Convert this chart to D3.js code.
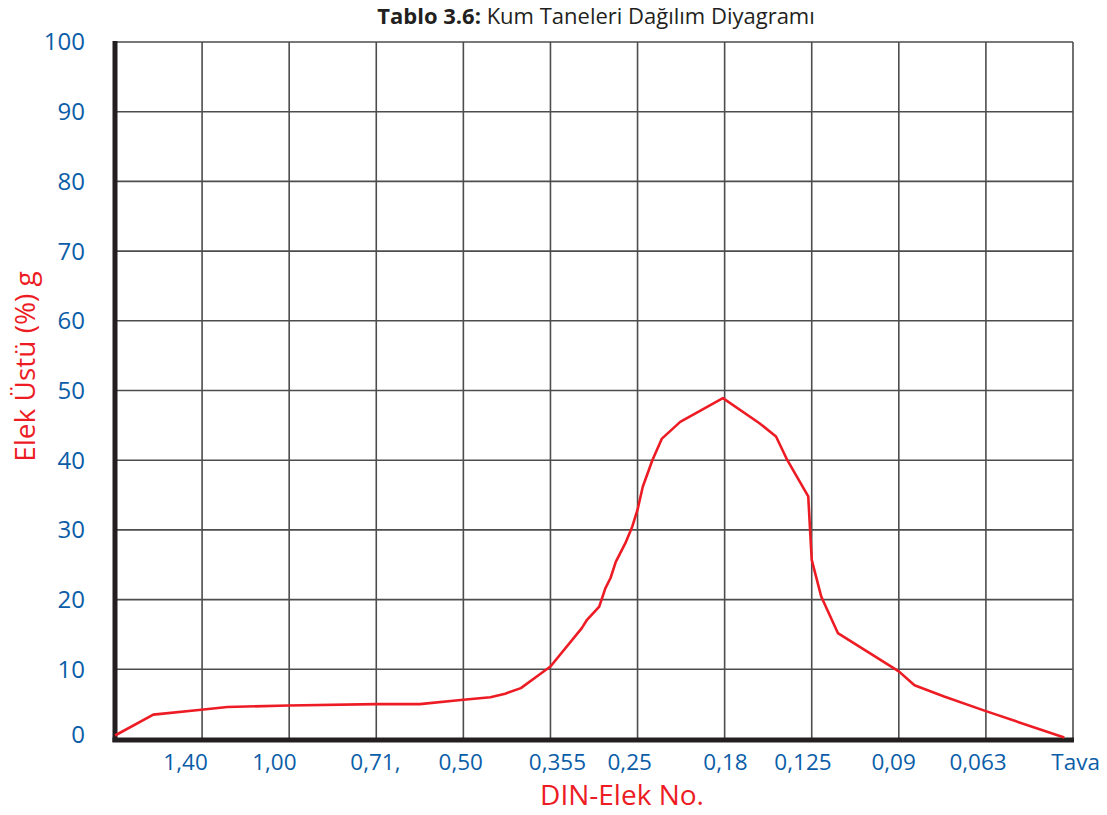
<!DOCTYPE html>
<html>
<head>
<meta charset="utf-8">
<script src="https://cdn.jsdelivr.net/npm/d3@7"></script>
<style>
  body { margin: 0; background: #fff; }
  text { font-family: "Open Sans", sans-serif; }
</style>
</head>
<body>
<div id="chart"></div>
<script>
// sieve labels and where they sit (in sieve-step units, 0 = left axis)
var sieveLabels = ["1,40", "1,00", "0,71,", "0,50", "0,355", "0,25", "0,18", "0,125", "0,09", "0,063", "Tava"];
var sievePos = [0.81, 1.83, 2.99, 3.97, 5.08, 5.91, 7.01, 7.9, 8.94, 9.91, 11.03];

// curve: step position along the sieve axis, % retained
var stepX = [0, 0.44, 0.99, 1.29, 1.99, 2.99, 3.5, 3.97, 4.31, 4.48, 4.66, 4.89, 5.0, 5.36, 5.42, 5.56, 5.63, 5.69, 5.75, 5.86, 5.94, 6.0, 6.06, 6.17, 6.28, 6.49, 6.98, 7.4, 7.59, 7.72, 7.96, 8.0, 8.11, 8.3, 9.0, 9.18, 9.52, 10.0, 10.9];
var retained = [0.5, 3.5, 4.2, 4.6, 4.8, 5.0, 5.0, 5.6, 6.0, 6.5, 7.3, 9.4, 10.4, 15.9, 17.1, 19.0, 21.6, 23.1, 25.4, 28.1, 30.5, 32.9, 36.2, 40.0, 43.1, 45.5, 48.9, 45.3, 43.4, 40.0, 34.8, 25.7, 20.4, 15.2, 9.7, 7.7, 6.1, 4.0, 0.2];

var yTicks = [0, 10, 20, 30, 40, 50, 60, 70, 80, 90, 100];

var width = 1107, height = 815;
var margin = {top: 42, right: 34, bottom: 76, left: 115};

var svg = d3.select('#chart')
    .append('svg')
    .attr('width', width)
    .attr('height', height)

var x = d3.scaleLinear()
    .domain([0, 11])
    .range([margin.left, width - margin.right])

var y = d3.scaleLinear()
    .domain([0, 100])
    .range([height - margin.bottom, margin.top])

// grid
svg.append('g')
    .selectAll('line')
    .data(d3.range(1, 12))
    .enter()
    .append('line')
    .attr('x1', d => x(d)).attr('x2', d => x(d))
    .attr('y1', y(0)).attr('y2', y(100))
    .attr('stroke', '#4d4d4d')
    .attr('stroke-width', 1.6)

svg.append('g')
    .selectAll('line')
    .data(yTicks.slice(1))
    .enter()
    .append('line')
    .attr('x1', x(0)).attr('x2', x(11))
    .attr('y1', d => y(d)).attr('y2', d => y(d))
    .attr('stroke', '#4d4d4d')
    .attr('stroke-width', 1.6)

// thick axes
svg.append('line')
    .attr('x1', x(0)).attr('x2', x(0))
    .attr('y1', y(100) - 1).attr('y2', y(0) + 3)
    .attr('stroke', '#231f20')
    .attr('stroke-width', 5)

svg.append('line')
    .attr('x1', x(0) - 2.5).attr('x2', x(11) + 1)
    .attr('y1', y(0) + 1).attr('y2', y(0) + 1)
    .attr('stroke', '#231f20')
    .attr('stroke-width', 5)

// y tick labels
svg.append('g')
    .selectAll('text')
    .data(yTicks)
    .enter()
    .append('text')
    .attr('x', 85)
    .attr('y', d => y(d) - (d === 0 ? 4 : 0))
    .attr('dy', '0.35em')
    .attr('text-anchor', 'end')
    .attr('fill', '#0b5da8')
    .attr('font-size', 24)
    .text(d => d)

// x labels
svg.append('g')
    .selectAll('text')
    .data(sieveLabels)
    .enter()
    .append('text')
    .attr('x', (d, i) => x(sievePos[i]))
    .attr('y', 770)
    .attr('text-anchor', 'middle')
    .attr('fill', '#0b5da8')
    .attr('font-size', 22.5)
    .text(d => d)

// curve
var pts = stepX.map((d, i) => [d, retained[i]]);
svg.append('path')
    .datum(pts)
    .attr('fill', 'none')
    .attr('stroke', '#ed1c24')
    .attr('stroke-width', 2.6)
    .attr('stroke-linejoin', 'round')
    .attr('d', d3.line().x(d => x(d[0])).y(d => y(d[1])))

// titles
var title = svg.append('text')
    .attr('x', 596)
    .attr('y', 23.5)
    .attr('text-anchor', 'middle')
    .attr('fill', '#231f20')
    .attr('font-size', 22)
title.append('tspan').attr('font-weight', 'bold').text('Tablo 3.6:')
title.append('tspan').text(' Kum Taneleri Dağılım Diyagramı')

svg.append('text')
    .attr('x', 622)
    .attr('y', 805)
    .attr('text-anchor', 'middle')
    .attr('fill', '#ed1c24')
    .attr('font-size', 28)
    .text('DIN-Elek No.')

svg.append('text')
    .attr('transform', 'translate(35,366.5) rotate(-90)')
    .attr('text-anchor', 'middle')
    .attr('fill', '#ed1c24')
    .attr('font-size', 28)
    .text('Elek Üstü (%) g')
</script>
</body>
</html>
